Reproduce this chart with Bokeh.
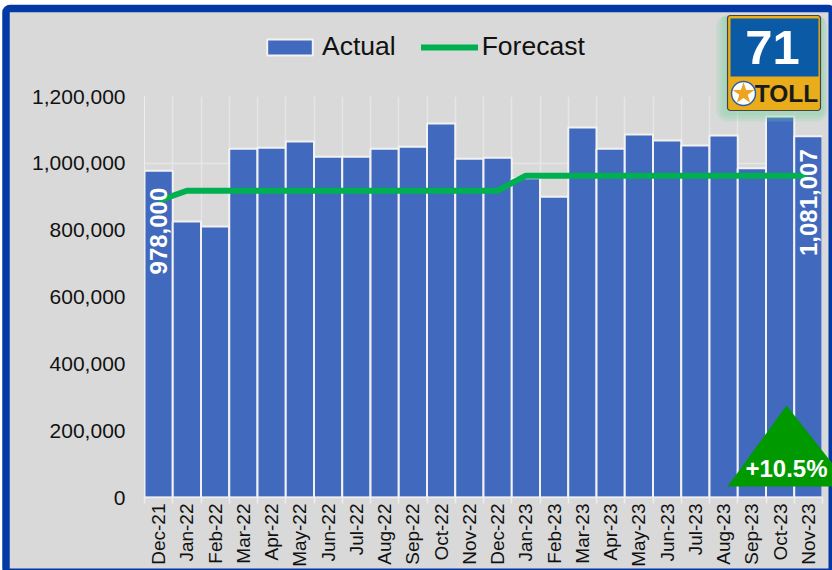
import numpy as np
from bokeh.plotting import figure
from bokeh.embed import file_html
from bokeh.resources import INLINE
from bokeh.core.properties import value
from bokeh.models import (Range1d, FixedTicker, Grid, Legend, LegendItem, BoxAnnotation,
                          NumeralTickFormatter, ColumnDataSource)

months = ["Dec-21","Jan-22","Feb-22","Mar-22","Apr-22","May-22","Jun-22","Jul-22","Aug-22","Sep-22","Oct-22","Nov-22",
          "Dec-22","Jan-23","Feb-23","Mar-23","Apr-23","May-23","Jun-23","Jul-23","Aug-23","Sep-23","Oct-23","Nov-23"]
actual = [978000,826000,811000,1044000,1047000,1065000,1020000,1020000,1044000,1050000,1119000,1014000,
          1017000,955000,900000,1107000,1044000,1086000,1068000,1053000,1083000,985000,1140000,1081007]
forecast = [888000,918000,918000,918000,918000,918000,918000,918000,918000,918000,918000,918000,
            918000,963000,963000,963000,963000,963000,963000,963000,963000,963000,963000,963000]
y_ticks = [0,200000,400000,600000,800000,1000000,1200000]
labelled = ["Dec-21","Nov-23"]
change_text = "+10.5%"
route_text = "71"
toll_text = "TOLL"

FONT = "Liberation Sans"
GRAY = "#d9d9d9"
BLUE = "#4169bd"
GREEN = "#00b050"
W, H = 832, 570
ABS = {"position": "absolute", "left": "0", "top": "0"}

pos = [i + 0.5 for i in range(len(months))]
edges = list(range(len(months) + 1))


def canvas():
    """A transparent full-window layer measured in window pixels."""
    f = figure(width=W, height=H, output_backend="svg", toolbar_location=None,
               x_range=Range1d(0, W), y_range=Range1d(H, 0),
               x_axis_location=None, y_axis_location=None, min_border=0,
               background_fill_color=None, border_fill_color=None, outline_line_color=None)
    f.grid.visible = False
    f.styles = ABS
    return f


def box(f, l, r, t, b, fill, alpha=1, line=None, lw=1, radius=0):
    f.add_layout(BoxAnnotation(left=l, right=r, top=t, bottom=b, fill_color=fill, fill_alpha=alpha,
                               line_color=line, line_width=lw, line_alpha=1, border_radius=radius,
                               level="underlay"))


# back layer: the panel
bg = canvas()
bg.border_fill_color = "white"
box(bg, 5.5, W - 0.25, 8, H + 1.75, GRAY, 1, "#0339a5", 7.5, 4)

# chart layer
p = figure(width=W, height=H, output_backend="svg", toolbar_location=None,
           x_range=Range1d(0, len(months)), y_range=Range1d(0, 1200000),
           frame_width=678, frame_height=401,
           min_border_left=144, min_border_right=10, min_border_top=96, min_border_bottom=73,
           background_fill_color=None, border_fill_color=None, outline_line_color=None)
p.styles = ABS
p.xgrid.visible = False
p.ygrid.visible = False
xa, ya = p.xaxis[0], p.yaxis[0]
p.add_layout(Grid(dimension=0, ticker=FixedTicker(ticks=edges), grid_line_color="#e6e6e6", grid_line_width=1.5, level="underlay"))
p.add_layout(Grid(dimension=1, ticker=FixedTicker(ticks=y_ticks), grid_line_color="#e6e6e6", grid_line_width=1.5, level="underlay"))
xa.ticker = FixedTicker(ticks=pos, minor_ticks=edges)
xa.major_label_overrides = {x: m for x, m in zip(pos, months)}
xa.major_label_orientation = np.pi / 2
xa.major_label_text_font = FONT
xa.major_label_text_font_size = "19px"
xa.major_label_text_color = "#111111"
xa.major_label_standoff = 0
xa.major_tick_line_color = None
xa.minor_tick_line_color = "#eeeeee"
xa.minor_tick_line_width = 1.5
xa.minor_tick_in = 0
xa.minor_tick_out = 6
xa.axis_line_color = "#eeeeee"
xa.axis_line_width = 1.5
ya.ticker = FixedTicker(ticks=y_ticks)
ya.formatter = NumeralTickFormatter(format="0,0")
ya.major_label_text_font = FONT
ya.major_label_text_font_size = "21px"
ya.major_label_text_color = "#111111"
ya.major_label_standoff = 13
ya.major_tick_line_color = None
ya.minor_tick_line_color = None
ya.axis_line_color = "#eeeeee"
ya.axis_line_width = 1

src = ColumnDataSource(dict(x=pos, actual=actual, forecast=forecast))
p.vbar(x="x", top="actual", width=1, source=src, fill_color=BLUE, line_color="#f2f2f2", line_width=2)
p.line(x="x", y="forecast", source=src, line_color=GREEN, line_width=6, line_join="round")

for m, off in zip(labelled, (17, 13)):
    i = months.index(m)
    p.text(x=[pos[i]], y=[actual[i]], text=[f"{actual[i]:,}"], angle=np.pi / 2, text_align="right",
           text_baseline="middle", y_offset=off, text_color="white", text_font=value(FONT),
           text_font_style="bold", text_font_size="24px")

# top layer: legend, change marker and toll badge
ov = canvas()
key_bar = ov.vbar(x=[-50], top=[-50], width=1, fill_color=BLUE, line_color="#f2f2f2", line_width=2)
key_line = ov.line(x=[-60, -50], y=[-50, -50], line_color=GREEN, line_width=6, line_cap="round")
legend = Legend(items=[LegendItem(label="Actual", renderers=[key_bar]), LegendItem(label="Forecast", renderers=[key_line])],
                orientation="horizontal", location=(261, H - 62), background_fill_alpha=0, border_line_color=None,
                label_text_font=FONT, label_text_font_size="26.5px", label_text_color="#111111",
                glyph_width=57, glyph_height=20, label_standoff=4, spacing=25, margin=0, padding=0)
ov.add_layout(legend, "center")

ov.patch(x=[727, 786, 850], y=[486, 405, 486], fill_color="#009900", line_color=None)
ov.text(x=[786], y=[468], text=[change_text], text_align="center", text_baseline="middle", text_color="white",
        text_font=value(FONT), text_font_style="bold", text_font_size="24px")
for g in (11, 8, 5):
    box(ov, 727 - g, 820 + g * 0.6, 15, 110 + g, "#7fd0a0", 0.2, radius=g)
box(ov, 727, 820, 15, 110, "#e9ad1b", 1, "#444444", 1.2, 3)
box(ov, 730, 818, 18, 76, "#0b5aa5", 1)
ov.text(x=[772], y=[47], text=[route_text], text_align="center", text_baseline="middle", text_color="white",
        text_font=value(FONT), text_font_style="bold", text_font_size="49px")
ov.scatter(x=[743], y=[93], size=24, marker="circle", fill_color="white", line_color="#2f5f9f", line_width=1.5)
ov.scatter(x=[743], y=[93], size=23, marker="star", fill_color="#eea321", line_color=None)
ov.text(x=[786], y=[93], text=[toll_text], text_align="center", text_baseline="middle", text_color="#1a1a1a",
        text_font=value(FONT), text_font_style="bold", text_font_size="24.5px")

open("out.html", "w").write(file_html([bg, p, ov], INLINE))
